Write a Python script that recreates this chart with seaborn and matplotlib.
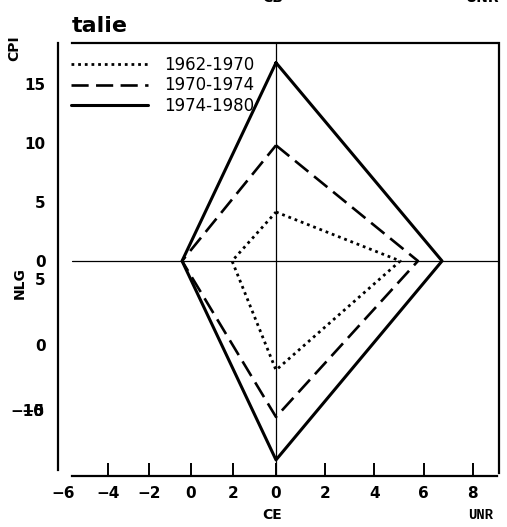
import numpy as np
import pandas as pd
import matplotlib.pyplot as plt
import seaborn as sns

# values, one per period
periods = ["1962-1970", "1970-1974", "1974-1980"]
cpi = [4.15, 9.8, 16.8]     # upper arm
unr = [5.05, 5.77, 6.75]    # right arm
nlg = [-1.9, -5.45, -8.7]   # lower arm
ce = [1.97, -0.43, -0.43]   # left arm

cpi_ticks = [15, 10, 5, 0]
nlg_ticks = [5, 0]
unr_ticks = [0, 2, 4, 6, 8]
ce_ticks = [-4, -2, 0, 2]

# the plot is drawn in UNR units (x) and CPI units (y);
# the CE and NLG scales are mapped onto them
CE0, CEK = -3.455, 0.847
NLG0, NLGK = -7.12, 1.119


def ce_x(v):
    return CE0 + CEK * v


def nlg_y(v):
    return NLG0 + NLGK * v


rows = []
for i, p in enumerate(periods):
    pts = [(0, cpi[i]), (unr[i], 0), (0, nlg_y(nlg[i])), (ce_x(ce[i]), 0), (0, cpi[i])]
    for x, y in pts:
        rows.append({"period": p, "x": x, "y": y})
df = pd.DataFrame(rows)

sns.set_theme(style="white")
plt.rcParams["font.family"] = ["Liberation Sans Narrow", "DejaVu Sans"]
plt.rcParams["text.color"] = "black"
plt.rcParams["xtick.color"] = "black"
plt.rcParams["ytick.color"] = "black"
plt.rcParams["xtick.labelcolor"] = "black"
plt.rcParams["ytick.labelcolor"] = "black"

fig = plt.figure(figsize=(5.07, 5.27), dpi=100)
ax = fig.add_axes([58 / 507, 51 / 527, 441 / 507, 433 / 527])

sns.lineplot(data=df, x="x", y="y", style="period", size="period",
             style_order=periods, size_order=periods,
             dashes={"1962-1970": (1, 1.4), "1970-1974": (6.5, 2.8), "1974-1980": ""},
             sizes={"1962-1970": 2.0, "1970-1974": 1.9, "1974-1980": 2.2},
             sort=False, estimator=None, color="black", legend=False, ax=ax)
series_lines = list(ax.lines[:3])

ax.axvline(0, color="black", lw=0.9)
ax.axhline(0, xmin=0.032, color="black", lw=0.9)

ax.set_xlim(-8.862, 9.065)
ax.set_ylim(-18.22, 18.47)
ax.set_xlabel("")
ax.set_ylabel("")

for s in ax.spines.values():
    s.set_color("black")
    s.set_linewidth(1.6)
ax.spines["bottom"].set_bounds(-8.29, 8.98)
ax.spines["top"].set_bounds(-8.29, 8.98)
ax.spines["left"].set_bounds(-17.71, 18.47)
ax.spines["right"].set_bounds(-17.97, 18.47)

xt = [ce_x(v) for v in ce_ticks] + unr_ticks
xl = [str(v).replace("-", "\u2212") for v in ce_ticks] + [str(v) for v in unr_ticks]
ax.set_xticks(xt)
ax.set_xticklabels(xl, fontsize=11, fontweight="bold")
ax.tick_params(axis="x", direction="in", length=9.5, width=1.4, pad=7,
               bottom=True, colors="black")

yt = cpi_ticks + [nlg_y(v) for v in nlg_ticks]
yl = [str(v) for v in cpi_ticks] + [str(v) for v in nlg_ticks]
ax.set_yticks(yt)
ax.set_yticklabels(yl, fontsize=11, fontweight="bold")
ax.tick_params(axis="y", length=0, pad=9, colors="black")

# overprinted labels at the lower left, as in the scan
ax.text(-9.4, nlg_y(-5), "\u221210", ha="right", va="center", fontsize=11, fontweight="bold")
ax.text(-9.4, nlg_y(-5), "\u22125", ha="right", va="center", fontsize=11, fontweight="bold")
ax.text(ce_x(-6) - 0.1, -19.1, "\u22126", ha="center", va="top", fontsize=11, fontweight="bold")

leg = ax.legend(series_lines, periods, loc="upper left", bbox_to_anchor=(0.03, 0.97),
                frameon=False, handlelength=4.6, handletextpad=1.0, labelspacing=0.15,
                borderpad=0, borderaxespad=0,
                prop={"family": "DejaVu Sans", "size": 12})
for t in leg.get_texts():
    t.set_color("black")

fig.text(72 / 507, 1 - 32 / 527, "talie", fontsize=16, fontweight="bold",
         family="DejaVu Sans", color="black", ha="left", va="baseline")
fig.text(273 / 507, 1.003, "CB", fontsize=10, fontweight="bold", ha="center", va="center")
fig.text(483 / 507, 1.003, "UNR", fontsize=10, fontweight="bold", ha="center", va="center")
fig.text(14 / 507, 1 - 48 / 527, "CPI", fontsize=10, fontweight="bold", rotation=90,
         ha="center", va="center")
fig.text(20 / 507, 1 - 283 / 527, "NLG", fontsize=10, fontweight="bold", rotation=90,
         ha="center", va="center")
fig.text(272 / 507, 1 - 515 / 527, "CE", fontsize=10, fontweight="bold", ha="center", va="center")
fig.text(481 / 507, 1 - 515 / 527, "UNR", fontsize=10, fontweight="bold",
         family="Liberation Mono", ha="center", va="center")

fig.savefig("out.png", dpi=100)
